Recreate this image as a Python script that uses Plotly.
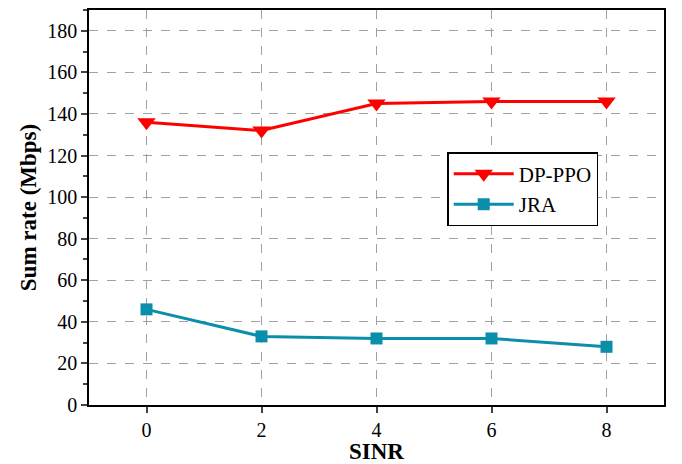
import plotly.graph_objects as go

sinr = [0, 2, 4, 6, 8]
dp_ppo = [136, 132, 145, 146, 146]
jra = [46, 33, 32, 32, 28]

y_ticks = [0, 20, 40, 60, 80, 100, 120, 140, 160, 180]
x_ticks = [0, 2, 4, 6, 8]

red = "#FF0000"
teal = "#0A8FAA"
serif = "Times New Roman, Liberation Serif, Times, serif"

fig = go.Figure()
fig.add_trace(go.Scatter(
    x=sinr, y=dp_ppo, name="DP-PPO", mode="lines+markers",
    line=dict(color=red, width=3),
    marker=dict(symbol="triangle-down", size=16, color=red),
))
fig.add_trace(go.Scatter(
    x=sinr, y=jra, name="JRA", mode="lines+markers",
    line=dict(color=teal, width=3),
    marker=dict(symbol="square", size=12, color=teal),
))

grid = dict(showgrid=True, gridcolor="#A0A0A0", gridwidth=1, griddash="dash")

fig.update_layout(
    width=682, height=464,
    margin=dict(l=89, r=18, t=10, b=59, autoexpand=False),
    paper_bgcolor="white", plot_bgcolor="white",
    font=dict(family=serif, size=20, color="black"),
    showlegend=True,
    legend=dict(
        x=0.623, y=0.64, xanchor="left", yanchor="top",
        bgcolor="white", bordercolor="black", borderwidth=1.5,
        font=dict(size=21, family=serif),
        tracegroupgap=0, itemwidth=60,
    ),
    xaxis=dict(
        range=[-1, 9], tickvals=x_ticks, ticks="outside", ticklen=6, tickwidth=1.5,
        showline=True, linecolor="black", linewidth=1.5, mirror=True,
        zeroline=False, automargin=False,
        title=dict(text="<b>SINR</b>", font=dict(size=23), standoff=4),
        **grid,
    ),
    yaxis=dict(
        range=[0, 190], tickvals=y_ticks, ticks="outside", ticklen=6, tickwidth=1.5,
        showline=True, linecolor="black", linewidth=1.5, mirror=True,
        zeroline=False, automargin=False,
        minor=dict(ticks="outside", ticklen=4, tickwidth=1.5, dtick=10, showgrid=False),
        title=dict(text="<b>Sum rate (Mbps)</b>", font=dict(size=23), standoff=4),
        **grid,
    ),
)

fig.write_html("out.html")
